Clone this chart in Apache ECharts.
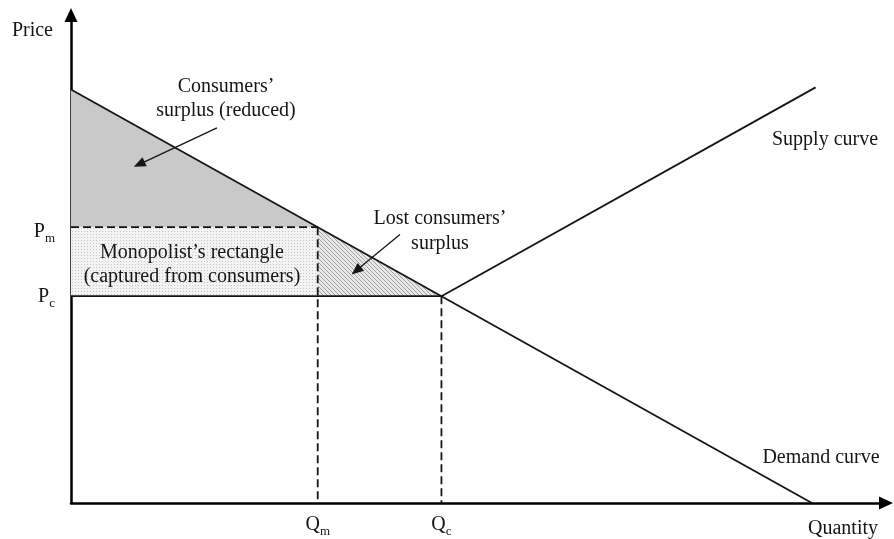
<!DOCTYPE html>
<html>
<head>
<meta charset="utf-8">
<script src="https://cdn.jsdelivr.net/npm/echarts@6/dist/echarts.min.js"></script>
<style>
  html, body { margin: 0; padding: 0; background: #fff; }
  #chart { width: 894px; height: 539px; }
</style>
</head>
<body>
<div id="chart"></div>
<script>
// curves (quantity, price)
const demandLine = [[0, 100], [100, 0]];
const supplyLine = [[50, 50], [100.5, 100.5]];

// monopoly / competitive points
const Qm = 33.3, Pm = 66.7;
const Qc = 50, Pc = 50;

// tick labels
const xTickValues = [Qm, Qc];
const xTickLabels = ['{p|Q}{s|m}', '{p|Q}{s|c}'];
const yTickValues = [Pm, Pc];
const yTickLabels = ['{pm|P}{s|m}', '{pc|P}{s|c}'];

// shaded areas
const surplusTri = [[0, 100], [0, Pm], [Qm, Pm]];
const monoRect = [[0, Pm], [Qm, Pm], [Qm, Pc], [0, Pc]];
const lostTri = [[Qm, Pm], [Qm, Pc], [Qc, Pc]];

// annotation arrows [from, to]
const arrows = [
  [[19.7, 90.7], [9.2, 81.9]],
  [[44.4, 64.9], [38.5, 56.2]]
];

const FONT = '"Liberation Serif", "Times New Roman", serif';
const INK = '#151515';

// little canvas tiles used as fill patterns
function makeTile(size, bg, fg, pick) {
  const c = document.createElement('canvas');
  c.width = size; c.height = size;
  const ctx = c.getContext('2d');
  ctx.fillStyle = bg;
  ctx.fillRect(0, 0, size, size);
  ctx.fillStyle = fg;
  for (let i = 0; i < size; i++) {
    for (let j = 0; j < size; j++) {
      if (pick(i, j)) ctx.fillRect(i, j, 1, 1);
    }
  }
  return c;
}
const dotTile = makeTile(3, '#f3f3f3', '#c6c6c6', (i, j) => i === 0 && j === 0);
const hatchTile = makeTile(4, '#e8e8e8', '#a2a2a2', (i, j) => i === j);

function polySeries(poly, fill) {
  return {
    type: 'custom',
    silent: true,
    z: 1,
    data: [[0, 0]],
    renderItem: (params, api) => ({
      type: 'polygon',
      shape: { points: poly.map((p) => api.coord(p)) },
      style: { fill: fill, stroke: 'none' }
    })
  };
}

function lineSeries(data, opts) {
  return Object.assign({
    type: 'line',
    data: data,
    symbol: 'none',
    silent: true,
    z: 3,
    lineStyle: { color: INK, width: 1.8 }
  }, opts || {});
}

const dashed = { color: INK, width: 1.8, type: [8, 4] };

function txt(x, y, text, lh) {
  return {
    type: 'text', x: x, y: y, z: 20,
    style: { text: text, font: '20px ' + FONT, fill: INK, align: 'center', verticalAlign: 'middle', lineHeight: lh || 24 }
  };
}

const chart = echarts.init(document.getElementById('chart'), null, { renderer: 'canvas' });

chart.setOption({
  animation: false,
  backgroundColor: '#fff',
  grid: { left: 71, right: 8, top: 15, bottom: 35 },
  xAxis: {
    type: 'value',
    min: 0,
    max: 110,
    name: 'Quantity',
    nameLocation: 'end',
    nameGap: -78,
    nameTextStyle: {
      fontFamily: FONT, fontSize: 20, color: INK,
      align: 'left', verticalAlign: 'top', padding: [16, 0, 0, 0]
    },
    splitLine: { show: false },
    axisTick: { show: false },
    axisLine: {
      lineStyle: { color: '#000', width: 2.5 },
      symbol: ['none', 'triangle'],
      symbolSize: [13, 14]
    },
    axisLabel: {
      customValues: xTickValues,
      margin: 12,
      formatter: (v) => xTickLabels[xTickValues.indexOf(v)] || '',
      rich: {
        p: { fontFamily: FONT, fontSize: 20, color: INK, verticalAlign: 'bottom', padding: [0, 0, 3, 0] },
        s: { fontFamily: FONT, fontSize: 13, color: INK, verticalAlign: 'bottom' }
      }
    }
  },
  yAxis: {
    type: 'value',
    min: 0,
    max: 118,
    name: 'Price',
    nameLocation: 'end',
    nameGap: -16,
    nameTextStyle: {
      fontFamily: FONT, fontSize: 20, color: INK,
      align: 'right', verticalAlign: 'middle', padding: [0, 18, 0, 0]
    },
    splitLine: { show: false },
    axisTick: { show: false },
    axisLine: {
      lineStyle: { color: '#000', width: 2.5 },
      symbol: ['none', 'triangle'],
      symbolSize: [13, 14]
    },
    axisLabel: {
      customValues: yTickValues,
      margin: 16,
      formatter: (v) => yTickLabels[yTickValues.indexOf(v)] || '',
      rich: {
        pm: { fontFamily: FONT, fontSize: 20, color: INK, verticalAlign: 'bottom', padding: [12, 0, 3, 0] },
        pc: { fontFamily: FONT, fontSize: 20, color: INK, verticalAlign: 'bottom', padding: [4, 0, 3, 0] },
        s: { fontFamily: FONT, fontSize: 13, color: INK, verticalAlign: 'bottom' }
      }
    }
  },
  series: [
    polySeries(surplusTri, '#c9c9c9'),
    polySeries(monoRect, { image: dotTile, repeat: 'repeat' }),
    polySeries(lostTri, { image: hatchTile, repeat: 'repeat' }),
    lineSeries(demandLine, {
      markLine: {
        silent: true,
        symbol: ['none', 'triangle'],
        symbolSize: [10, 12],
        label: { show: false },
        lineStyle: { color: INK, width: 1.3, type: 'solid' },
        data: arrows.map(([a, b]) => [{ coord: a }, { coord: b }])
      }
    }),
    lineSeries(supplyLine),
    lineSeries([[0, Pc], [Qc, Pc]]),
    lineSeries([[0, Pm], [Qm, Pm]], { lineStyle: dashed }),
    lineSeries([[Qm, Pm], [Qm, 0]], { lineStyle: dashed }),
    lineSeries([[Qc, Pc], [Qc, 0]], { lineStyle: dashed })
  ],
  graphic: [
    txt(226, 99, 'Consumers\u2019\nsurplus (reduced)'),
    txt(192, 265, 'Monopolist\u2019s rectangle\n(captured from consumers)'),
    txt(440, 231, 'Lost consumers\u2019\nsurplus', 25),
    txt(825, 140, 'Supply curve'),
    txt(821, 458, 'Demand curve')
  ]
});
</script>
</body>
</html>
